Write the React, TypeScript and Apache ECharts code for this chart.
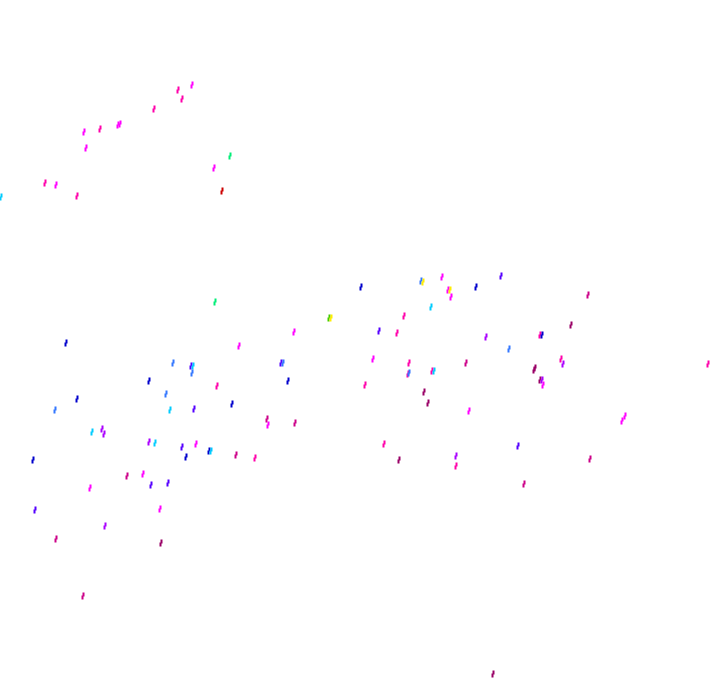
import React, { useEffect, useRef } from "react";
import * as echarts from "echarts";

// Point positions (plot units) and a tone index for each point
const xs = [
  192, 178, 182, 154, 118, 120, 100, 84, 86, 230, 214, 222, 45, 56, 77, 1,
  215, 66, 239, 294, 361, 421, 423, 442, 448, 450, 451, 476, 501, 431, 404, 329, 331, 379, 397,
  588, 571, 486, 540, 542, 509, 561, 563, 535, 540, 542, 543, 708,
  373, 409, 408, 409, 432, 434, 466,
  173, 191, 193, 192, 281, 283, 149, 288, 217, 77, 166, 55, 170, 194, 232, 267, 268, 295,
  92, 102, 104, 149, 155, 182, 196, 209, 211, 186, 236, 255, 33,
  127, 143, 90, 151, 168, 35, 160, 105, 56, 161, 83,
  534, 365, 424, 428, 469, 625, 622, 384, 518, 399, 456, 456, 590, 524, 493,
];
const ys = [
  85, 90, 99, 109, 125, 124, 129, 132, 148, 156, 168, 191, 183, 185, 196, 197,
  302, 343, 346, 332, 287, 281, 282, 277, 290, 290, 297, 287, 276, 307, 316, 318, 318, 331, 333,
  295, 325, 337, 335, 335, 349, 359, 364, 368, 380, 380, 385, 364,
  359, 363, 374, 373, 371, 371, 363,
  363, 366, 366, 373, 363, 363, 381, 381, 386, 399, 394, 410, 410, 409, 404, 419, 425, 423,
  432, 429, 434, 442, 443, 447, 444, 451, 451, 457, 455, 458, 460,
  476, 474, 488, 485, 483, 510, 509, 526, 539, 543, 596,
  370, 385, 392, 403, 411, 416, 421, 444, 446, 460, 456, 466, 459, 484, 674,
];
const tone = [
  9, 10, 10, 10, 9, 9, 10, 9, 9, 3, 9, 0, 10, 9, 10, 4,
  3, 6, 9, 9, 6, 5, 1, 9, 9, 1, 9, 6, 7, 4, 10, 2, 1, 7, 10,
  11, 12, 8, 10, 6, 5, 10, 8, 12, 12, 8, 9, 10,
  9, 10, 10, 5, 10, 4, 11,
  5, 7, 4, 5, 7, 5, 6, 6, 10, 6, 5, 5, 4, 7, 6, 11, 9, 11,
  4, 8, 8, 8, 4, 7, 9, 6, 4, 6, 11, 10, 6,
  11, 9, 9, 7, 7, 7, 9, 8, 11, 12, 11,
  12, 10, 12, 12, 9, 9, 9, 10, 7, 12, 8, 10, 11, 11, 12,
];

const tonePalette = [
  "#cc0000", "#ffee00", "#44cc00", "#00ee77", "#00ccff", "#3377ff", "#0000cc",
  "#5500ff", "#aa00ff", "#ff00ff", "#ff00aa", "#cc0088", "#990066",
];

export default function App() {
  const ref = useRef<HTMLDivElement>(null);
  useEffect(() => {
    if (!ref.current) return;
    const chart = echarts.init(ref.current, null, { renderer: "svg" });
    const data = xs.map((x, i) => [x, ys[i], tone[i]]);
    chart.setOption({
      animation: false,
      backgroundColor: "#ffffff",
      grid: { left: 0, right: 0, top: 0, bottom: 0 },
      xAxis: { type: "value", min: 0, max: 720, show: false },
      yAxis: { type: "value", min: 0, max: 692, inverse: true, show: false },
      visualMap: {
        show: false,
        type: "continuous",
        dimension: 2,
        min: 0,
        max: tonePalette.length - 1,
        inRange: { color: tonePalette },
      },
      series: [
        {
          type: "scatter",
          data,
          symbol: "path://M1,0 H3 V4 H2 V7 H0 V3 H1 Z",
          symbolSize: [3, 7],
          itemStyle: { opacity: 1 },
        },
      ],
    });
    return () => chart.dispose();
  }, []);
  return (
    <div
      ref={ref}
      style={{ position: "fixed", left: 0, top: 0, width: 720, height: 692 }}
    />
  );
}
